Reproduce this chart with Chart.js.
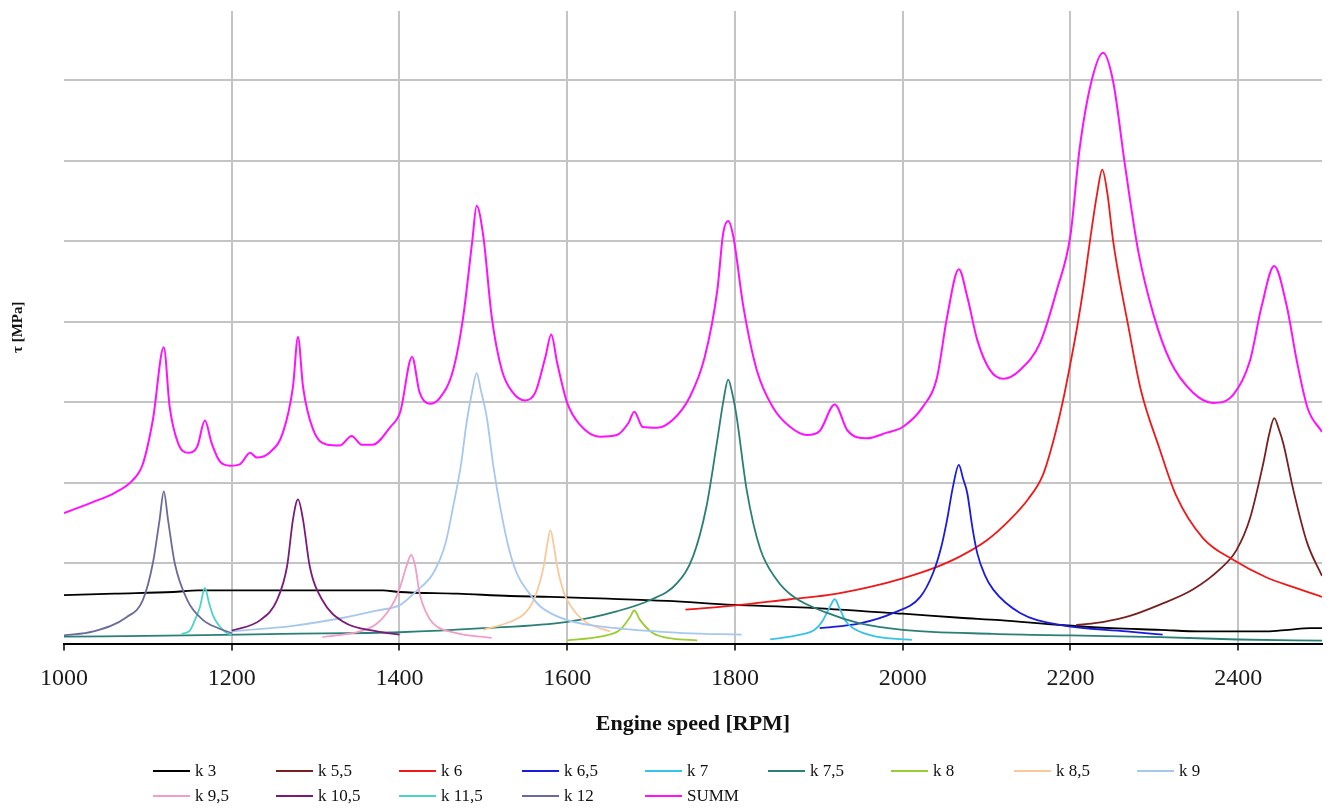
<!DOCTYPE html>
<html>
<head>
<meta charset="utf-8">
<script src="https://cdn.jsdelivr.net/npm/chart.js@4.4.0/dist/chart.umd.min.js"></script>
<style>
    html, body { margin: 0; padding: 0; background: #fff; }
    #wrap { position: relative; width: 1332px; height: 809px; }
    #legend { position: absolute; left: 0; top: 0; width: 1332px; height: 809px; pointer-events: none;
              font-family: "Liberation Serif", "Times New Roman", serif; font-size: 17px; color: #111; }
    .item { position: absolute; height: 20px; display: flex; align-items: center; white-space: nowrap; }
    .swatch { width: 37px; height: 2px; margin-right: 5px; }
</style>
</head>
<body>
<div id="wrap">
    <canvas id="chart" width="1332" height="809"></canvas>
    <div id="legend"></div>
</div>
<script>
"use strict";

// axis ticks
var xTicks = [1000, 1200, 1400, 1600, 1800, 2000, 2200, 2400];
var yGrid = [0, 10, 20, 30, 40, 50, 60, 70];

// series: engine speed [RPM] and tau (relative units)
var rpmK3 = [1000, 1060, 1130, 1160, 1380, 1400, 1469, 1532, 1580, 1639, 1719, 1798, 1878, 2000, 2068, 2116, 2188, 2250, 2307, 2355, 2434, 2460, 2486, 2500];
var tauK3 = [6.0, 6.2, 6.4, 6.6, 6.6, 6.4, 6.2, 5.9, 5.8, 5.6, 5.3, 4.8, 4.5, 3.7, 3.2, 2.9, 2.3, 1.9, 1.7, 1.5, 1.5, 1.7, 1.9, 1.9];

var rpmK55 = [2207, 2240, 2270, 2306, 2346, 2378, 2398, 2414, 2430, 2437, 2443, 2449, 2454, 2466, 2482, 2500];
var tauK55 = [2.3, 2.7, 3.4, 4.8, 6.7, 9.2, 11.6, 15.5, 22.4, 26.0, 28.0, 26.5, 24.8, 19.0, 12.6, 8.4];

var rpmK6 = [1741, 1798, 1866, 1910, 1960, 2000, 2040, 2068, 2100, 2128, 2150, 2167, 2180, 2191, 2200, 2208, 2216, 2223, 2232, 2238, 2244, 2251, 2258, 2268, 2284, 2306, 2326, 2358, 2394, 2434, 2466, 2500];
var tauK6 = [4.2, 4.7, 5.5, 6.0, 7.0, 8.1, 9.5, 10.8, 12.8, 15.4, 18.0, 20.9, 25.3, 30.1, 34.8, 39.3, 44.5, 49.8, 56.0, 58.9, 56.0, 50.0, 45.5, 40.0, 31.5, 24.3, 18.4, 13.1, 10.4, 8.2, 7.0, 5.8];

var rpmK65 = [1901, 1949, 1989, 2021, 2036, 2046, 2053, 2060, 2067, 2072, 2077, 2083, 2089, 2098, 2108, 2140, 2188, 2267, 2310];
var tauK65 = [1.9, 2.5, 3.8, 5.8, 8.7, 12.0, 15.4, 19.5, 22.2, 20.5, 18.7, 14.5, 11.2, 8.5, 6.7, 3.8, 2.3, 1.5, 1.1];

var rpmK7 = [1842, 1878, 1895, 1905, 1913, 1919, 1925, 1932, 1941, 1969, 2011];
var tauK7 = [0.5, 1.1, 1.7, 2.9, 4.5, 5.5, 4.3, 2.8, 1.9, 0.85, 0.45];

var rpmK75 = [1000, 1145, 1260, 1400, 1500, 1600, 1659, 1699, 1731, 1750, 1766, 1779, 1786, 1792, 1797, 1802, 1814, 1830, 1850, 1870, 1910, 1949, 2000, 2108, 2200, 2307, 2400, 2500];
var tauK75 = [0.85, 1.0, 1.2, 1.4, 1.9, 2.7, 4.0, 5.4, 7.5, 10.8, 17.0, 25.3, 30.0, 32.8, 31.0, 28.2, 19.1, 11.8, 7.9, 5.8, 3.8, 2.5, 1.7, 1.2, 1.0, 0.8, 0.5, 0.35];

var rpmK8 = [1600, 1639, 1663, 1675, 1680, 1687, 1702, 1726, 1755];
var tauK8 = [0.4, 0.85, 1.7, 3.3, 4.1, 2.9, 1.3, 0.6, 0.4];

var rpmK85 = [1500, 1532, 1550, 1560, 1567, 1572, 1576, 1580, 1584, 1588, 1594, 1600, 1619, 1651];
var tauK85 = [1.7, 2.7, 3.8, 5.4, 7.5, 9.6, 12.2, 14.1, 12.2, 9.6, 7.0, 5.4, 2.9, 1.5];

var rpmK9 = [1200, 1273, 1333, 1373, 1401, 1420, 1440, 1455, 1464, 1473, 1480, 1487, 1492, 1497, 1504, 1512, 1520, 1530, 1540, 1555, 1568, 1600, 1659, 1738, 1808];
var tauK9 = [1.5, 2.2, 3.2, 4.1, 4.8, 6.5, 8.7, 12.5, 17.0, 22.0, 27.4, 31.5, 33.6, 31.5, 28.2, 22.0, 17.0, 12.0, 8.7, 6.2, 4.6, 2.9, 1.9, 1.3, 1.1];

var rpmK95 = [1308, 1353, 1372, 1385, 1395, 1401, 1408, 1414, 1419, 1424, 1432, 1440, 1468, 1510];
var tauK95 = [0.8, 1.5, 2.4, 3.8, 5.5, 7.1, 9.5, 11.0, 9.5, 6.2, 3.8, 2.5, 1.3, 0.7];

var rpmK105 = [1200, 1234, 1254, 1266, 1273, 1279, 1285, 1293, 1308, 1333, 1373, 1400];
var tauK105 = [1.6, 2.9, 5.4, 9.6, 15.4, 17.9, 15.4, 9.6, 5.4, 2.7, 1.5, 1.1];

var rpmK115 = [1140, 1150, 1156, 1162, 1168, 1173, 1178, 1185, 1194, 1200];
var tauK115 = [1.2, 1.6, 2.9, 4.5, 6.9, 5.0, 3.4, 2.2, 1.3, 1.1];

var rpmK12 = [1000, 1035, 1075, 1094, 1106, 1114, 1119, 1124, 1132, 1147, 1166, 1184, 1200];
var tauK12 = [1.0, 1.5, 3.3, 5.4, 10.0, 15.4, 18.9, 15.4, 10.0, 5.4, 2.9, 1.9, 1.3];

var rpmSumm = [1000, 1035, 1060, 1082, 1094, 1106, 1119, 1126, 1136, 1148, 1159, 1168, 1176, 1186, 1198, 1210, 1222, 1230, 1246, 1261, 1273, 1279, 1285, 1297, 1314, 1329, 1343, 1355, 1368, 1389, 1401, 1415, 1424, 1436, 1448, 1464, 1476, 1487, 1492, 1500, 1510, 1522, 1535, 1550, 1562, 1574, 1581, 1588, 1600, 1615, 1639, 1659, 1673, 1680, 1690, 1707, 1726, 1746, 1764, 1779, 1786, 1792, 1798, 1810, 1826, 1845, 1866, 1886, 1901, 1919, 1934, 1957, 1981, 2000, 2024, 2041, 2053, 2067, 2077, 2089, 2104, 2120, 2140, 2164, 2184, 2200, 2211, 2225, 2239, 2251, 2265, 2281, 2299, 2319, 2346, 2370, 2394, 2414, 2428, 2443, 2458, 2470, 2483, 2500];
var tauSumm = [16.2, 17.6, 18.7, 20.3, 22.3, 27.8, 36.8, 29.4, 24.9, 23.7, 24.5, 27.7, 24.9, 22.6, 22.1, 22.3, 23.7, 23.1, 23.8, 26.2, 31.9, 38.1, 31.9, 26.6, 24.7, 24.6, 25.8, 24.7, 24.7, 26.9, 28.8, 35.6, 31.2, 29.8, 30.5, 34.0, 40.6, 50.2, 54.4, 50.6, 40.6, 34.0, 31.2, 30.2, 31.2, 35.6, 38.4, 34.9, 29.9, 27.2, 25.7, 25.9, 27.4, 28.8, 26.9, 26.8, 27.8, 30.6, 35.6, 43.9, 51.0, 52.5, 50.6, 41.9, 34.0, 29.4, 26.9, 25.9, 26.4, 29.7, 26.5, 25.5, 26.2, 26.9, 29.4, 33.1, 40.6, 46.5, 43.1, 37.7, 34.0, 32.9, 34.0, 37.4, 44.0, 50.7, 61.5, 69.8, 73.4, 69.8, 59.5, 48.7, 40.9, 35.1, 31.2, 29.9, 30.9, 35.1, 41.9, 46.9, 41.9, 35.1, 29.2, 26.3];

var seriesNames = ["k 3", "k 5,5", "k 6", "k 6,5", "k 7", "k 7,5", "k 8", "k 8,5", "k 9", "k 9,5", "k 10,5", "k 11,5", "k 12", "SUMM"];
var seriesRpm = [rpmK3, rpmK55, rpmK6, rpmK65, rpmK7, rpmK75, rpmK8, rpmK85, rpmK9, rpmK95, rpmK105, rpmK115, rpmK12, rpmSumm];
var seriesTau = [tauK3, tauK55, tauK6, tauK65, tauK7, tauK75, tauK8, tauK85, tauK9, tauK95, tauK105, tauK115, tauK12, tauSumm];
var seriesColors = ["#000000", "#7a1f1f", "#f01818", "#1a1ae0", "#35c3ea", "#2a7f76", "#9acd32", "#f9c99b",
                    "#a6c8ef", "#f29cc8", "#7a1a7a", "#4cd4c8", "#6b6b9b", "#ff10ff"];

var serif = "'Liberation Serif', 'Times New Roman', serif";

var datasets = seriesNames.map(function (name, i) {
    return {
        label: name,
        data: seriesRpm[i].map(function (x, j) { return { x: x, y: seriesTau[i][j] }; }),
        borderColor: seriesColors[i],
        backgroundColor: seriesColors[i],
        borderWidth: name === "SUMM" ? 2 : 1.8,
        pointRadius: 0,
        fill: false,
        cubicInterpolationMode: 'monotone',
        order: seriesNames.length - 1 - i
    };
});

var chartArea = document.getElementById("chart");
var tauChart = new Chart(chartArea, {
    type: 'line',
    data: { datasets: datasets },
    options: {
        responsive: false,
        animation: false,
        layout: { padding: { top: 11, right: 10, left: 0, bottom: 0 } },
        plugins: {
            legend: { display: false },
            tooltip: { enabled: false }
        },
        scales: {
            x: {
                type: 'linear',
                min: 1000,
                max: 2500,
                afterBuildTicks: function (scale) {
                    scale.ticks = xTicks.map(function (v) { return { value: v }; });
                },
                afterFit: function (scale) { scale.height = 165.5; },
                ticks: {
                    color: '#1a1a1a',
                    font: { family: serif, size: 24 },
                    padding: 14,
                    maxRotation: 0,
                    autoSkip: false,
                    callback: function (value) { return String(value); }
                },
                grid: {
                    color: function (ctx) {
                        return ctx.tick && ctx.tick.value === 1000 ? 'rgba(0,0,0,0)' : '#c4c4c4';
                    },
                    lineWidth: 2,
                    tickColor: '#000',
                    tickLength: 7,
                    tickWidth: 1.5
                },
                border: { display: true, color: '#000', width: 2 },
                title: {
                    display: true,
                    text: 'Engine speed [RPM]',
                    color: '#111',
                    font: { family: serif, size: 22, weight: 'bold' },
                    padding: { top: 0, bottom: 71 }
                }
            },
            y: {
                min: 0,
                max: 78.6,
                afterBuildTicks: function (scale) {
                    scale.ticks = yGrid.map(function (v) { return { value: v }; });
                },
                afterFit: function (scale) { scale.width = 64; },
                ticks: { display: false },
                grid: { color: '#c4c4c4', lineWidth: 2, drawTicks: false },
                border: { display: false },
                title: {
                    display: true,
                    text: 'τ [MPa]',
                    color: '#111',
                    font: { family: serif, size: 15, weight: 'bold' },
                    padding: { top: 9, bottom: 0 }
                }
            }
        }
    }
});

// legend in Excel style: fixed columns, two rows
var legendBox = document.getElementById("legend");
tauChart.data.datasets.forEach(function (ds, i) {
    var item = document.createElement("div");
    item.className = "item";
    item.style.left = (153 + (i % 9) * 123) + "px";
    item.style.top = (761 + Math.floor(i / 9) * 25) + "px";
    var swatch = document.createElement("span");
    swatch.className = "swatch";
    swatch.style.background = ds.borderColor;
    var text = document.createElement("span");
    text.textContent = ds.label;
    item.appendChild(swatch);
    item.appendChild(text);
    legendBox.appendChild(item);
});
</script>
</body>
</html>
